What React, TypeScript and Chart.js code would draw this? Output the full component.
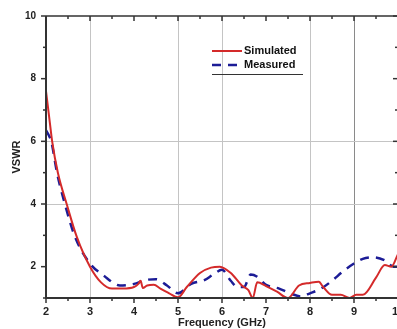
import React, { useEffect, useRef } from "react";
import { Chart, registerables } from "chart.js";

Chart.register(...registerables);

const simFreq = [2, 2.07, 2.14, 2.27, 2.47, 2.7, 3, 3.25, 3.5, 3.75, 4.0, 4.1, 4.15, 4.2, 4.3, 4.45, 4.6, 4.8, 5.0, 5.2, 5.5, 5.75, 5.95, 6.2, 6.45, 6.6, 6.7, 6.8, 7.0, 7.25, 7.5, 7.75, 8.0, 8.2, 8.3, 8.5, 8.7, 8.9, 9.05, 9.2, 9.5, 9.7, 9.85, 10];
const simVswr = [7.6, 6.8, 6.0, 5.0, 4.0, 2.95, 2.0, 1.5, 1.3, 1.3, 1.35, 1.45, 1.55, 1.32, 1.4, 1.42, 1.3, 1.15, 1.02, 1.35, 1.8, 1.97, 2.0, 1.8, 1.4, 1.25, 1.0, 1.5, 1.38, 1.2, 1.0, 1.4, 1.48, 1.52, 1.35, 1.1, 1.1, 1.0, 1.1, 1.1, 1.65, 2.05, 2.0, 2.4];

const measFreq = [2, 2.06, 2.12, 2.25, 2.43, 2.66, 3, 3.3, 3.68, 4.0, 4.25, 4.5, 4.75, 5.0, 5.3, 5.6, 5.8, 6.0, 6.2, 6.35, 6.5, 6.65, 6.8, 7.0, 7.3, 7.55, 7.8, 8.0, 8.25, 8.5, 8.75, 9.0, 9.2, 9.45, 9.7, 9.9, 10];
const measVswr = [6.35, 6.2, 6.0, 5.0, 4.0, 2.95, 2.1, 1.73, 1.4, 1.45, 1.57, 1.6, 1.4, 1.15, 1.45, 1.57, 1.75, 1.9, 1.55, 1.35, 1.35, 1.75, 1.68, 1.42, 1.3, 1.15, 1.05, 1.15, 1.3, 1.55, 1.85, 2.1, 2.25, 2.3, 2.2, 2.0, 2.0];

const xTickValues = [2, 3, 4, 5, 6, 7, 8, 9, 10];
const yTickValues = [2, 4, 6, 8, 10];
const gridXLight = [3, 5, 6, 8];
const gridXDark = [9];
const gridY = [4, 6];

const seriesNames = ["Simulated", "Measured"];
const axisTitles = { x: "Frequency (GHz)", y: "VSWR" };

const FONT = "'Liberation Sans', Arial, sans-serif";

const framePlugin = {
  id: "frame",
  beforeDatasetsDraw(chart: any) {
    const { ctx, chartArea: a, scales } = chart;
    const x = scales.x, y = scales.y;
    ctx.save();
    ctx.lineWidth = 1;
    ctx.strokeStyle = "#c4c4c4";
    for (const v of gridXLight) {
      const px = Math.round(x.getPixelForValue(v)) + 0.5;
      ctx.beginPath(); ctx.moveTo(px, a.top); ctx.lineTo(px, a.bottom); ctx.stroke();
    }
    ctx.strokeStyle = "#8a8a8a";
    for (const v of gridXDark) {
      const px = Math.round(x.getPixelForValue(v)) + 0.5;
      ctx.beginPath(); ctx.moveTo(px, a.top); ctx.lineTo(px, a.bottom); ctx.stroke();
    }
    ctx.strokeStyle = "#c4c4c4";
    for (const v of gridY) {
      const py = Math.round(y.getPixelForValue(v)) + 0.5;
      ctx.beginPath(); ctx.moveTo(a.left, py); ctx.lineTo(a.right, py); ctx.stroke();
    }
    ctx.restore();
  },
  afterDatasetsDraw(chart: any) {
    const { ctx, chartArea: a, scales } = chart;
    const x = scales.x, y = scales.y;
    ctx.save();
    ctx.strokeStyle = "#333";
    ctx.lineWidth = 2;
    ctx.beginPath();
    ctx.moveTo(a.left, a.top); ctx.lineTo(a.left, a.bottom); ctx.lineTo(a.right, a.bottom);
    ctx.stroke();
    ctx.lineWidth = 1.5;
    ctx.beginPath();
    ctx.moveTo(a.left, a.top); ctx.lineTo(a.right, a.top); ctx.lineTo(a.right, a.bottom);
    ctx.stroke();
    ctx.lineWidth = 1.5;
    for (let v = 2; v <= 10.001; v += 0.5) {
      const px = x.getPixelForValue(v);
      const major = Math.abs(v - Math.round(v)) < 1e-6;
      const len = major ? 5 : 3;
      ctx.beginPath(); ctx.moveTo(px, a.bottom); ctx.lineTo(px, a.bottom + len); ctx.stroke();
      ctx.beginPath(); ctx.moveTo(px, a.top); ctx.lineTo(px, a.top + len); ctx.stroke();
    }
    for (let v = 1; v <= 10; v += 1) {
      const py = y.getPixelForValue(v);
      const major = v % 2 === 0;
      const len = major ? 5 : 3;
      ctx.beginPath(); ctx.moveTo(a.left, py); ctx.lineTo(a.left - len, py); ctx.stroke();
      ctx.beginPath(); ctx.moveTo(a.right, py); ctx.lineTo(a.right - len, py); ctx.stroke();
    }
    ctx.fillStyle = "#222";
    ctx.font = `bold 11px ${FONT}`;
    ctx.textAlign = "center";
    ctx.textBaseline = "middle";
    ctx.fillText(axisTitles.x, (a.left + a.right) / 2, 323);
    ctx.save();
    ctx.translate(17, (a.top + a.bottom) / 2);
    ctx.rotate(-Math.PI / 2);
    ctx.fillText(axisTitles.y, 0, 0);
    ctx.restore();
    const lx = 212;
    ctx.lineWidth = 2;
    ctx.strokeStyle = "#d42a2a";
    ctx.beginPath(); ctx.moveTo(lx, 51); ctx.lineTo(lx + 30, 51); ctx.stroke();
    ctx.strokeStyle = "#1c1c96";
    ctx.lineWidth = 2.5;
    ctx.setLineDash([9, 7]);
    ctx.beginPath(); ctx.moveTo(lx, 65); ctx.lineTo(lx + 30, 65); ctx.stroke();
    ctx.setLineDash([]);
    ctx.fillStyle = "#111";
    ctx.textAlign = "left";
    ctx.fillText(seriesNames[0], lx + 32, 51);
    ctx.fillText(seriesNames[1], lx + 32, 65);
    ctx.strokeStyle = "#333";
    ctx.lineWidth = 1;
    ctx.beginPath(); ctx.moveTo(lx, 74.5); ctx.lineTo(lx + 91, 74.5); ctx.stroke();
    ctx.restore();
  },
};

export default function App() {
  const ref = useRef<HTMLCanvasElement>(null);
  useEffect(() => {
    if (!ref.current) return;
    const chart = new Chart(ref.current, {
      type: "line",
      data: {
        datasets: [
          {
            label: seriesNames[0],
            data: simFreq.map((f, i) => ({ x: f, y: simVswr[i] })),
            borderColor: "#d42a2a",
            borderWidth: 2,
            pointRadius: 0,
            cubicInterpolationMode: "monotone",
          },
          {
            label: seriesNames[1],
            data: measFreq.map((f, i) => ({ x: f, y: measVswr[i] })),
            borderColor: "#1c1c96",
            borderWidth: 2.5,
            borderDash: [9, 7],
            pointRadius: 0,
            cubicInterpolationMode: "monotone",
          },
        ],
      },
      plugins: [framePlugin],
      options: {
        animation: false,
        responsive: false,
        devicePixelRatio: 1,
        layout: { padding: { top: 15, right: 42, left: 0, bottom: 0 } },
        plugins: { legend: { display: false }, tooltip: { enabled: false } },
        scales: {
          x: {
            type: "linear",
            min: 2,
            max: 10,
            grid: { display: false, drawTicks: false, tickLength: 0 },
            border: { display: false },
            afterBuildTicks: (s: any) => { s.ticks = xTickValues.map((v) => ({ value: v })); },
            afterFit: (s: any) => { s.height = 31; },
            ticks: { padding: 7, color: "#222", font: { family: FONT, size: 11, weight: "bold" } },
          },
          y: {
            type: "linear",
            min: 1,
            max: 10,
            grid: { display: false, drawTicks: false, tickLength: 0 },
            border: { display: false },
            afterBuildTicks: (s: any) => { s.ticks = yTickValues.map((v) => ({ value: v })); },
            afterFit: (s: any) => { s.width = 46; },
            ticks: { padding: 10, color: "#222", font: { family: FONT, size: 10, weight: "bold" } },
          },
        },
      },
    } as any);
    return () => chart.destroy();
  }, []);
  return (
    <div style={{ position: "fixed", left: 0, top: 0, width: 397, height: 329, overflow: "hidden", background: "#fff" }}>
      <canvas ref={ref} width={440} height={329} style={{ width: 440, height: 329, display: "block" }} />
    </div>
  );
}
